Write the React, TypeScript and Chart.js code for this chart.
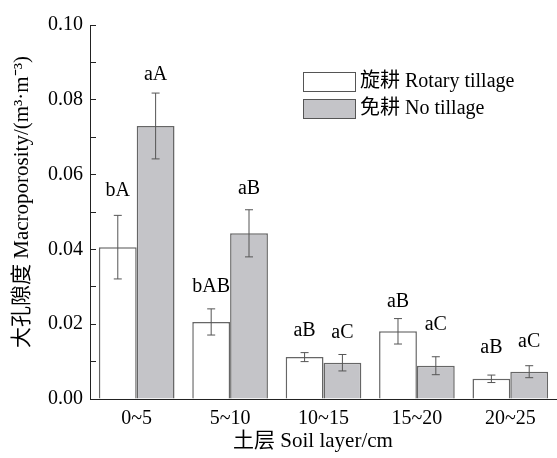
import React, { useEffect, useRef } from 'react';
import { Chart, registerables } from 'chart.js';

Chart.register(...registerables);

const categories = ['0~5', '5~10', '10~15', '15~20', '20~25'];
const rotaryLabel = '旋耕 Rotary tillage';
const noTillLabel = '免耕 No tillage';
const rotaryValues = [0.0406, 0.0206, 0.0112, 0.0181, 0.0054];
const rotaryErrors = [0.0085, 0.0035, 0.0012, 0.0034, 0.001];
const noTillValues = [0.073, 0.0443, 0.0097, 0.0089, 0.0073];
const noTillErrors = [0.0088, 0.0063, 0.0022, 0.0024, 0.0016];
const rotaryLetters = ['bA', 'bAB', 'aB', 'aB', 'aB'];
const noTillLetters = ['aA', 'aB', 'aC', 'aC', 'aC'];
const rotaryLetterAt = [0.0557, 0.0299, 0.0182, 0.0259, 0.0137];
const noTillLetterAt = [0.0868, 0.0562, 0.0177, 0.0198, 0.0153];
const yMin = 0;
const yMax = 0.1;
const yStep = 0.01;
const yTitle = '大孔隙度 Macroporosity/(m³·m⁻³)';
const xTitle = '土层 Soil layer/cm';

const FONT = "'Liberation Serif', 'Times New Roman', 'Noto Sans CJK SC', serif";
const WHITE = '#ffffff';
const GRAY = '#c4c4c8';
const EDGE = '#666666';
const AXIS = '#222222';

const extras = {
  id: 'extras',
  afterDatasetsDraw(chart: any) {
    const ctx = chart.ctx;
    const y = chart.scales.y;
    const errs = [rotaryErrors, noTillErrors];
    const letters = [rotaryLetters, noTillLetters];
    const letterAt = [rotaryLetterAt, noTillLetterAt];
    ctx.save();
    chart.data.datasets.forEach((ds: any, di: number) => {
      const meta = chart.getDatasetMeta(di);
      meta.data.forEach((bar: any, i: number) => {
        const v = ds.data[i];
        const e = errs[di][i];
        const x = bar.x;
        const yt = y.getPixelForValue(v + e);
        const yb = y.getPixelForValue(v - e);
        ctx.strokeStyle = '#555555';
        ctx.lineWidth = 1;
        ctx.beginPath();
        ctx.moveTo(x, yt);
        ctx.lineTo(x, yb);
        ctx.moveTo(x - 4, yt);
        ctx.lineTo(x + 4, yt);
        ctx.moveTo(x - 4, yb);
        ctx.lineTo(x + 4, yb);
        ctx.stroke();
        ctx.fillStyle = '#000000';
        ctx.font = `20px ${FONT}`;
        ctx.textAlign = 'center';
        ctx.textBaseline = 'middle';
        ctx.fillText(letters[di][i], x, y.getPixelForValue(letterAt[di][i]));
      });
    });
    // legend
    chart.data.datasets.forEach((ds: any, di: number) => {
      const bx = 303;
      const by = 72 + di * 27;
      ctx.fillStyle = ds.backgroundColor;
      ctx.fillRect(bx, by, 52, 19);
      ctx.strokeStyle = '#555555';
      ctx.lineWidth = 1;
      ctx.strokeRect(bx + 0.5, by + 0.5, 52, 19);
      ctx.fillStyle = '#000000';
      ctx.font = `20px ${FONT}`;
      ctx.textAlign = 'left';
      ctx.textBaseline = 'middle';
      ctx.fillText(ds.label, 360, by + 10);
    });
    // axis titles
    ctx.fillStyle = '#000000';
    ctx.font = `21px ${FONT}`;
    ctx.textAlign = 'center';
    ctx.textBaseline = 'middle';
    ctx.fillText(xTitle, 313, 441);
    ctx.translate(22, 202);
    ctx.rotate(-Math.PI / 2);
    ctx.fillText(yTitle, 0, 0);
    ctx.restore();
  },
};

export default function App() {
  const ref = useRef<HTMLCanvasElement>(null);
  useEffect(() => {
    if (!ref.current) return;
    const chart = new Chart(ref.current, {
      type: 'bar',
      data: {
        labels: categories,
        datasets: [
          {
            label: rotaryLabel,
            data: rotaryValues,
            backgroundColor: WHITE,
            borderColor: EDGE,
            borderWidth: 1.5,
            categoryPercentage: 0.81,
            barPercentage: 1,
          },
          {
            label: noTillLabel,
            data: noTillValues,
            backgroundColor: GRAY,
            borderColor: EDGE,
            borderWidth: 1.5,
            categoryPercentage: 0.81,
            barPercentage: 1,
          },
        ],
      },
      options: {
        responsive: false,
        animation: false,
        devicePixelRatio: 1,
        layout: { padding: { top: 20, left: 0, right: 0, bottom: 0 } },
        plugins: { legend: { display: false }, tooltip: { enabled: false } },
        scales: {
          x: {
            grid: { display: false },
            border: { display: true, color: AXIS, width: 1 },
            ticks: { color: '#000', font: { family: FONT, size: 20 }, padding: 0, maxRotation: 0 },
            afterFit: (s: any) => {
              s.height = 59;
            },
          },
          y: {
            min: yMin,
            max: yMax,
            grid: { drawOnChartArea: false, drawTicks: true, tickLength: -6, color: AXIS, lineWidth: 1 },
            border: { display: true, color: AXIS, width: 1 },
            ticks: {
              stepSize: yStep,
              autoSkip: false,
              color: '#000',
              padding: 13,
              font: { family: FONT, size: 20 },
              callback: (v: any, i: number) => (i % 2 === 0 ? Number(v).toFixed(2) : ''),
            },
            afterFit: (s: any) => {
              s.width = 90;
            },
          },
        },
      },
      plugins: [extras],
    });
    return () => chart.destroy();
  }, []);
  return (
    <div style={{ position: 'fixed', left: 0, top: 0, width: 557, height: 458, background: '#fff' }}>
      <canvas ref={ref} width={557} height={458} />
    </div>
  );
}
